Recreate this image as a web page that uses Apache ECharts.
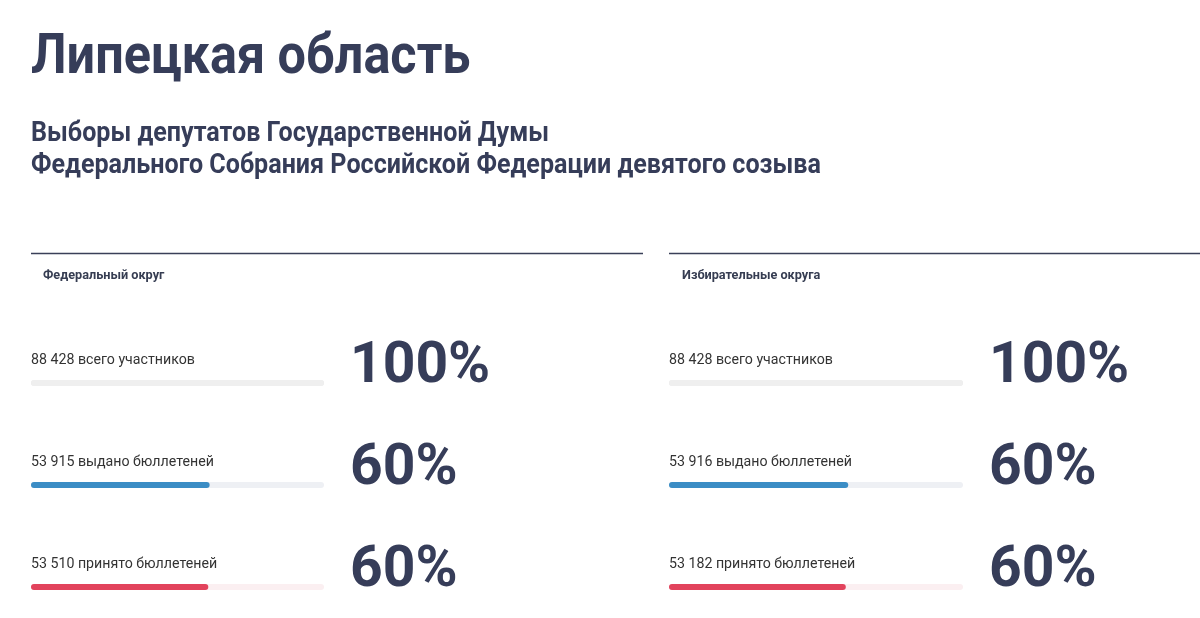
<!DOCTYPE html>
<html>
<head>
<meta charset="utf-8">
<script src="https://cdn.jsdelivr.net/npm/echarts@6/dist/echarts.min.js"></script>
<style>
html,body{margin:0;padding:0;background:#fff;}
#chart{width:1200px;height:618px;}
</style>
</head>
<body>
<div id="chart"></div>
<script>
const titleText = 'Липецкая область';
const subtitleLines = ['Выборы депутатов Государственной Думы', 'Федерального Собрания Российской Федерации девятого созыва'];
const panelNames = ['Федеральный округ', 'Избирательные округа'];
const rowLabels = ['всего участников', 'выдано бюллетеней', 'принято бюллетеней'];
const fedValues = [88428, 53915, 53510];
const distValues = [88428, 53916, 53182];
const fedPct = [100, 60, 60];
const distPct = [100, 60, 60];
const barColors = ['#efefef', '#3b8dc5', '#e2435c'];
const trackColors = ['#efefef', '#eef0f4', '#fbeff1'];

const DARK = '#363d59';
const FONT = 'Roboto, "Noto Sans", sans-serif';

function fmt(v){ return String(v).replace(/\B(?=(\d{3})+(?!\d))/g, ' '); }

const chart = echarts.init(document.getElementById('chart'), null, {renderer:'canvas'});

const panels = [
  {values: fedValues, pct: fedPct, left: 31, width: 293},
  {values: distValues, pct: distPct, left: 669, width: 294}
];

const grids = [], xAxes = [], yAxes = [], series = [];
panels.forEach((p, i) => {
  const total = p.values[0];
  grids.push({left: p.left, width: p.width, top: 383, height: 204, containLabel: false});
  xAxes.push({type: 'value', gridIndex: i, min: 0, max: total, show: false});
  yAxes.push({type: 'category', gridIndex: i, data: rowLabels, inverse: true, boundaryGap: false, show: false});
  series.push({
    type: 'bar', xAxisIndex: i, yAxisIndex: i, barWidth: 6, barGap: '-100%', silent: true, z: 1,
    data: p.values.map((v, k) => ({value: total, itemStyle: {color: trackColors[k], borderRadius: 3}})),
    label: {
      show: true, position: [0, -20], align: 'left', verticalAlign: 'middle',
      fontFamily: FONT, fontSize: 14.2, color: '#333',
      formatter: (d) => fmt(p.values[d.dataIndex]) + ' ' + rowLabels[d.dataIndex]
    }
  });
  series.push({
    type: 'bar', xAxisIndex: i, yAxisIndex: i, barWidth: 6, barGap: '-100%', silent: true, z: 2,
    data: p.values.map((v, k) => ({value: v, itemStyle: {color: barColors[k], borderRadius: 3}}))
  });
  series.push({
    type: 'bar', xAxisIndex: i, yAxisIndex: i, barWidth: 6, barGap: '-100%', silent: true, z: 3,
    data: p.values.map(() => total),
    itemStyle: {color: 'rgba(0,0,0,0)'},
    label: {
      show: true, position: ['100%', '50%'], offset: [26, -15], align: 'left', verticalAlign: 'middle',
      fontFamily: FONT, fontSize: 57, fontWeight: 'bold', color: DARK,
      formatter: (d) => p.pct[d.dataIndex] + '%'
    }
  });
});

const graphics = [
  {type: 'text', x: 31, y: 59, scaleX: 0.9, style: {text: titleText, fontFamily: FONT, fontSize: 56, fontWeight: 'bold', fill: DARK, verticalAlign: 'middle', align: 'left'}},
  {type: 'text', x: 31, y: 134, scaleX: 0.93, style: {text: subtitleLines[0], fontFamily: FONT, fontSize: 27, fontWeight: 'bold', fill: DARK, verticalAlign: 'middle', align: 'left'}},
  {type: 'text', x: 31, y: 166, scaleX: 0.93, style: {text: subtitleLines[1], fontFamily: FONT, fontSize: 27, fontWeight: 'bold', fill: DARK, verticalAlign: 'middle', align: 'left'}},
  {type: 'line', shape: {x1: 31, y1: 253.5, x2: 643, y2: 253.5}, style: {stroke: '#3a4058', lineWidth: 1.5}},
  {type: 'line', shape: {x1: 669, y1: 253.5, x2: 1200, y2: 253.5}, style: {stroke: '#3a4058', lineWidth: 1.5}},
  {type: 'text', x: 43, y: 276, style: {text: panelNames[0], fontFamily: FONT, fontSize: 12.7, fontWeight: 'bold', fill: '#363d52', verticalAlign: 'middle', align: 'left'}},
  {type: 'text', x: 682, y: 276, style: {text: panelNames[1], fontFamily: FONT, fontSize: 12.7, fontWeight: 'bold', fill: '#363d52', verticalAlign: 'middle', align: 'left'}}
];

chart.setOption({
  backgroundColor: '#fff',
  animation: false,
  grid: grids,
  xAxis: xAxes,
  yAxis: yAxes,
  series: series,
  graphic: graphics
});
</script>
</body>
</html>
